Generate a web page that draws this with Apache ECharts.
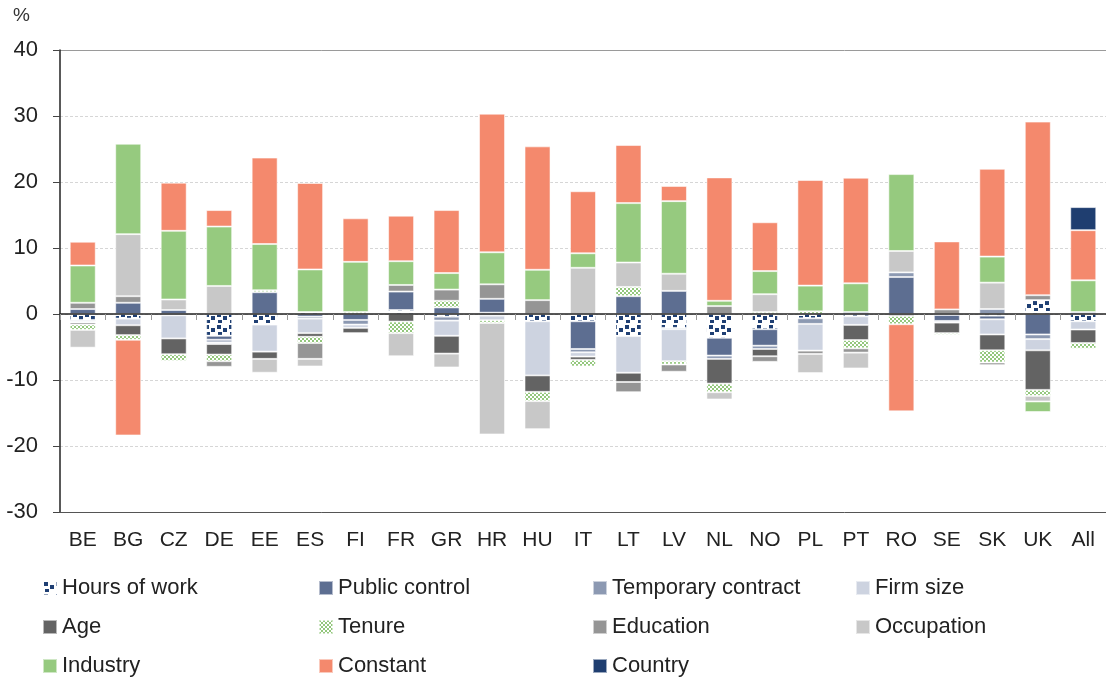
<!DOCTYPE html>
<html>
<head>
<meta charset="utf-8">
<script src="https://cdn.jsdelivr.net/npm/echarts@6/dist/echarts.min.js"></script>
<style>
  html, body { margin: 0; padding: 0; background: #fff; }
  #chart { width: 1106px; height: 679px; }
</style>
</head>
<body>
<div id="chart"></div>
<script>
var countries = ['BE', 'BG', 'CZ', 'DE', 'EE', 'ES', 'FI', 'FR', 'GR', 'HR', 'HU', 'IT', 'LT', 'LV', 'NL', 'NO', 'PL', 'PT', 'RO', 'SE', 'SK', 'UK', 'All'];

var hoursOfWork   = [-0.9, -0.7, null, -3.3, -1.6, 0.3, null, 0.6, -0.4, 0.2, -1.1, -1.1, -3.35, -2.1, -3.6, -2.3, -0.65, -0.35, null, -0.15, -0.25, 2.1, -1.1];
var publicControl = [0.75, 1.7, 0.6, -0.6, 3.3, -0.4, -0.9, 2.8, 1.0, 2.1, null, -4.2, 2.7, 3.5, -2.7, -2.5, null, 0.3, 5.6, -0.9, -0.55, -3.1, null];
var tempContract  = [-0.2, null, -0.2, -0.4, null, -0.3, -0.7, null, -0.6, -0.25, null, -0.5, null, -0.2, -0.5, -0.5, -0.85, null, 0.7, null, 0.75, -0.7, 0.3];
var firmSize      = [-0.2, -1.0, -3.5, -0.25, -4.1, -2.2, -0.5, null, -2.3, -0.7, -8.2, -0.65, -5.55, -4.85, null, null, -4.05, -1.3, null, -0.25, -2.3, -1.7, -1.25];
var age           = [-0.3, -1.5, -2.4, -1.6, -1.1, -0.55, -0.8, -1.15, -2.7, null, -2.5, -0.5, -1.4, null, -3.75, -1.1, null, -2.3, -0.3, -1.6, -2.4, -6.0, -2.05];
var tenure        = [-0.8, -0.7, -1.0, -1.0, 0.3, -0.95, 0.3, -1.75, 1.0, -0.4, -1.4, -1.0, 1.4, -0.5, -1.3, 0.3, 0.4, -1.25, -1.25, -0.25, -1.85, -0.9, -0.85];
var education     = [0.95, 1.0, null, -0.85, null, -2.4, null, 1.0, 1.7, 2.2, 2.1, null, -1.55, -1.1, 1.2, -0.85, -0.5, -0.65, null, 0.7, -0.4, 0.75, null];
var occupation    = [-2.7, 9.4, 1.6, 4.25, -2.1, -1.15, null, -3.5, -2.1, -16.9, -4.25, 7.0, 3.7, 2.6, -1.1, 2.7, -2.9, -2.4, 3.25, -0.15, 4.0, -0.85, null];
var industry      = [5.65, 13.7, 10.4, 9.0, 7.0, 6.45, 7.6, 3.6, 2.5, 4.85, 4.6, 2.2, 9.0, 11.0, 0.8, 3.5, 3.9, 4.35, 11.65, null, 3.95, -1.6, 4.8];
var constant      = [3.6, -14.5, 7.3, 2.5, 13.1, 13.1, 6.6, 6.9, 9.55, 21.0, 18.7, 9.4, 8.8, 2.3, 18.7, 7.4, 16.0, 16.0, -13.2, 10.3, 13.3, 26.3, 7.6];
var country       = [null, null, null, null, null, null, null, null, null, null, null, null, null, null, null, null, null, null, null, null, null, null, 3.5];

var yTicks = { min: -30, max: 40, interval: 10 };

function makeHoursPattern() {
    var c = document.createElement('canvas');
    c.width = 12; c.height = 12;
    var ctx = c.getContext('2d');
    ctx.fillStyle = '#ffffff';
    ctx.fillRect(0, 0, 12, 12);
    ctx.fillStyle = '#1f3f73';
    ctx.fillRect(1, 1, 4, 4);
    ctx.fillRect(7, 4, 4, 4);
    ctx.fillRect(2, 8, 4, 3);
    return { image: c, repeat: 'repeat' };
}

function makeTenurePattern() {
    var c = document.createElement('canvas');
    c.width = 4; c.height = 4;
    var ctx = c.getContext('2d');
    ctx.fillStyle = '#ffffff';
    ctx.fillRect(0, 0, 4, 4);
    ctx.fillStyle = '#93c77c';
    ctx.fillRect(0, 0, 2, 2);
    ctx.fillRect(2, 2, 2, 2);
    return { image: c, repeat: 'repeat' };
}

var seriesDefs = [
    { name: 'Hours of work', data: hoursOfWork, color: makeHoursPattern() },
    { name: 'Public control', data: publicControl, color: '#5d6e91' },
    { name: 'Temporary contract', data: tempContract, color: '#8c99b2' },
    { name: 'Firm size', data: firmSize, color: '#cdd3e0' },
    { name: 'Age', data: age, color: '#636363' },
    { name: 'Tenure', data: tenure, color: makeTenurePattern() },
    { name: 'Education', data: education, color: '#959595' },
    { name: 'Occupation', data: occupation, color: '#c8c8c8' },
    { name: 'Industry', data: industry, color: '#96ca7f' },
    { name: 'Constant', data: constant, color: '#f4896d' },
    { name: 'Country', data: country, color: '#1f3e70' }
];

var font = 'Liberation Sans';
var legendCols = [
    ['Hours of work', 'Age', 'Industry'],
    ['Public control', 'Tenure', 'Constant'],
    ['Temporary contract', 'Education', 'Country'],
    ['Firm size', 'Occupation']
];
var legendLeft = [42, 318, 592, 855];

// only the top (40) line of the second axis is visible: a solid frame line
var topLineColors = ['transparent', 'transparent', 'transparent', 'transparent',
    'transparent', 'transparent', 'transparent', '#9a9a9a'];

var chart = echarts.init(document.getElementById('chart'), null, { renderer: 'canvas' });

chart.setOption({
    animation: false,
    title: {
        text: '%',
        left: 8,
        top: 1,
        textStyle: { fontFamily: font, fontSize: 19, fontWeight: 'normal', color: '#333' }
    },
    grid: {
        left: 60,
        right: 0,
        top: 50,
        bottom: 167
    },
    legend: legendCols.map((col, i) => ({
        data: col,
        orient: 'vertical',
        left: legendLeft[i],
        top: 577,
        height: 102,
        padding: 0,
        icon: 'rect',
        itemWidth: 14,
        itemHeight: 14,
        itemGap: 17,
        textStyle: { fontFamily: font, fontSize: 22, color: '#222', lineHeight: 22 },
        selectedMode: false
    })),
    xAxis: [
        {
            type: 'category',
            data: countries,
            position: 'top',
            z: 10,
            axisLine: { onZero: true, lineStyle: { color: '#222', width: 1.5 } },
            axisTick: { show: true, inside: true, length: 6, lineStyle: { color: '#999' } },
            axisLabel: { show: false }
        },
        {
            type: 'category',
            data: countries,
            position: 'bottom',
            z: 10,
            axisLine: { onZero: false, lineStyle: { color: '#555', width: 1 } },
            axisTick: { show: false },
            axisLabel: { fontFamily: font, fontSize: 21, color: '#222', margin: 18 }
        }
    ],
    yAxis: [
        {
            type: 'value',
            min: yTicks.min,
            max: yTicks.max,
            interval: yTicks.interval,
            axisLine: { show: true, lineStyle: { color: '#222', width: 1.5 } },
            axisTick: { show: true, length: 7, lineStyle: { color: '#444' } },
            axisLabel: { fontFamily: font, fontSize: 22, color: '#222', margin: 22 },
            splitLine: { show: true, lineStyle: { color: '#d6d6d6', type: [3, 2] } }
        },
        {
            type: 'value',
            position: 'right',
            min: yTicks.min,
            max: yTicks.max,
            interval: yTicks.interval,
            axisLine: { show: false },
            axisTick: { show: false },
            axisLabel: { show: false },
            splitLine: { show: true, lineStyle: { color: topLineColors, width: 1 } }
        }
    ],
    series: seriesDefs.map(s => ({
        name: s.name,
        type: 'bar',
        stack: 'total',
        xAxisIndex: 0,
        yAxisIndex: 0,
        barWidth: 26,
        itemStyle: {
            color: s.color,
            borderColor: 'rgba(255,255,255,0.55)',
            borderWidth: 1
        },
        data: s.data
    }))
});
</script>
</body>
</html>
